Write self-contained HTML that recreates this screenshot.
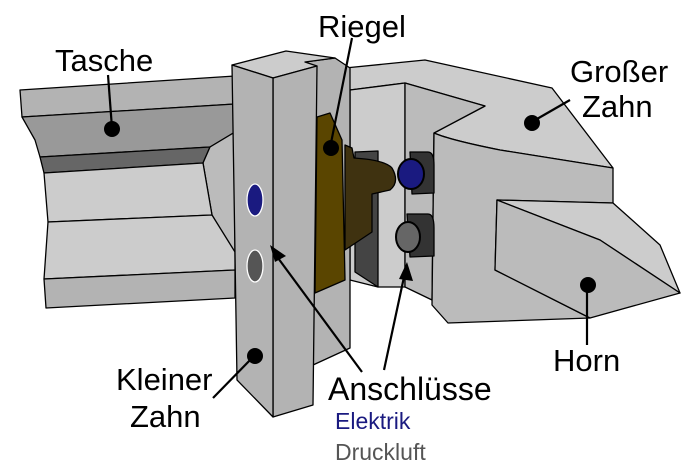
<!DOCTYPE html>
<html><head><meta charset="utf-8"><style>
html,body{margin:0;padding:0;background:#fff;}
svg{display:block;}
text{font-family:"Liberation Sans",sans-serif;}
</style></head><body>
<svg width="700" height="471" viewBox="0 0 700 471" xmlns="http://www.w3.org/2000/svg" stroke="#000" stroke-width="1.3" stroke-linejoin="round">
<!-- Tasche beam -->
<polygon points="20,90 235,76 235,104 22,117" fill="#b3b3b3"/>
<polygon points="22,117 235,104 235,132 210,147 40,157 35,140" fill="#999"/>
<polygon points="40,157 210,147 203,163 44,173" fill="#666"/>
<polygon points="235,104 235,255 212,215 203,163 210,147 235,132" fill="#bbb"/>
<polygon points="44,173 203,163 212,215 48,222" fill="#ccc"/>
<polygon points="48,222 212,215 235,252 235,270 44,279" fill="#ccc"/>
<polygon points="44,279 235,270 235,298 46,308" fill="#b3b3b3"/>
<!-- Grosser Zahn back -->
<path d="M345,68 L425,60 L552,88 L613,168 L500,150 Q450,140 434,133 L485,106 L405,83 L350,90 Z" fill="#ccc"/>
<polygon points="350,90 405,83 405,287 378,287 350,280" fill="#ccc"/>
<polygon points="405,83 485,106 434,133 432,300 405,287" fill="#bbb"/>
<path d="M434,133 Q450,140 500,150 L613,168 L613,203 L497,200 L495,270 L590,318 L448,323 L432,305 Z" fill="#bbb"/>
<polygon points="497,200 613,203 660,245 680,293 600,240" fill="#ccc"/>
<polygon points="497,200 600,240 680,293 590,318 495,270" fill="#bbb"/>
<!-- sockets -->
<path d="M410,152 L428,152 Q434,152 434,165 L434,193 L412,194 Z" fill="#333"/>
<ellipse cx="411" cy="174" rx="13" ry="15" fill="#1a1a80" stroke-width="2"/>
<path d="M407,214 L428,214 Q434,214 434,228 L434,256 L410,257 Z" fill="#333"/>
<ellipse cx="408" cy="237" rx="12" ry="15" fill="#666" stroke-width="2"/>
<!-- dark block -->
<polygon points="355,152 378,151 378,287 355,272" fill="#444"/>
<!-- Kleiner Zahn plate behind -->
<polygon points="305,62 335,58 350,68 350,348 313,365 313,66" fill="#b3b3b3"/>
<!-- Riegel -->
<polygon points="317,117 330,113 342,140 345,280 315,293" fill="#5a4500"/>
<path d="M345,145 L352,148 L354,158 Q385,160 392,168 Q400,182 390,190 L372,194 L372,232 L345,250 Z" fill="#3f3210"/>
<!-- Kleiner Zahn post -->
<polygon points="232,65 286,51 335,58 305,62 317,66 273,78" fill="#ccc"/>
<polygon points="273,78 317,66 313,405 273,417" fill="#b3b3b3"/>
<polygon points="232,65 273,78 273,417 237,380" fill="#b3b3b3"/>
<ellipse cx="255" cy="200" rx="8" ry="16" fill="#1a1a80" stroke="#fff" stroke-width="1.3"/>
<ellipse cx="255" cy="266" rx="8" ry="16" fill="#555" stroke="#fff" stroke-width="1.3"/>
<!-- leaders -->
<g stroke-width="2.2" fill="#000">
<line x1="108" y1="75" x2="112" y2="128"/><circle cx="112" cy="129" r="8" stroke="none"/>
<line x1="352" y1="38" x2="330" y2="148"/><circle cx="331" cy="148" r="8" stroke="none"/>
<line x1="570" y1="100" x2="530" y2="123"/><circle cx="532" cy="123" r="8" stroke="none"/>
<line x1="587" y1="345" x2="587" y2="285"/><circle cx="588" cy="285" r="8" stroke="none"/>
<line x1="213" y1="398" x2="254" y2="356"/><circle cx="255" cy="356" r="8" stroke="none"/>
<line x1="362" y1="372" x2="278" y2="258"/>
<polygon points="270,245 286,256 275,262" stroke="none"/>
<line x1="384" y1="370" x2="404" y2="277"/>
<polygon points="407,262 413,281 399,279" stroke="none"/>
</g>
<g stroke="none" fill="#000" style="font-size:31px">
<text x="55" y="71">Tasche</text>
<text x="318" y="37">Riegel</text>
<text x="570" y="82">Großer</text>
<text x="582" y="117">Zahn</text>
<text x="553" y="371">Horn</text>
<text x="116" y="390">Kleiner</text>
<text x="130" y="427">Zahn</text>
<text x="328" y="400" style="font-size:32px">Anschlüsse</text>
<text x="335" y="429" style="font-size:23px" fill="#1a1a80">Elektrik</text>
<text x="335" y="460" style="font-size:23px" fill="#555">Druckluft</text>
</g>
</svg>
</body></html>
